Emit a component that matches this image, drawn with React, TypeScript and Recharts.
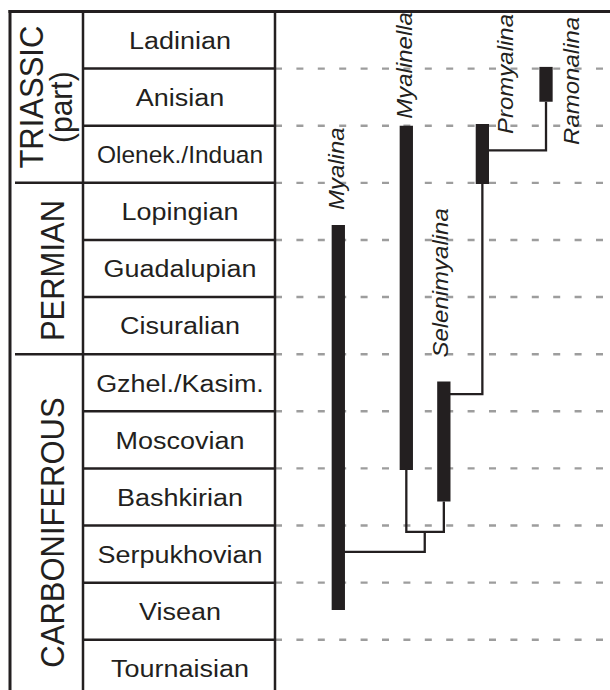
import React from 'react';
import { LineChart, Line, XAxis, YAxis, ReferenceLine } from 'recharts';

// stages from top (youngest) to bottom, one row each
const STAGES = [
  'Ladinian', 'Anisian', 'Olenek./Induan', 'Lopingian', 'Guadalupian', 'Cisuralian',
  'Gzhel./Kasim.', 'Moscovian', 'Bashkirian', 'Serpukhovian', 'Visean', 'Tournaisian',
];
const STAGE_BOUNDS = [0, 1, 2, 3, 4, 5, 6, 7, 8, 9, 10, 11];

const PERIODS = ['TRIASSIC', 'PERMIAN', 'CARBONIFEROUS'];
const PERIOD_NOTES = ['(part)', '', ''];
const PERIOD_START = [0, 3, 6];
const PERIOD_END = [3, 6, 12];

// genera: column on the x axis and range in stage rows (0 = top of Ladinian)
const GENERA = ['Myalina', 'Myalinella', 'Selenimyalina', 'Promyalina', 'Ramonalina'];
const GENUS_X = [1.89, 3.92, 5.04, 6.19, 8.09];
const RANGE_TOP = [3.74, 2.0, 6.48, 1.97, 0.97];
const RANGE_BASE = [10.48, 8.03, 8.58, 3.02, 1.58];

// cladogram branches, [x, y] points
const BRANCHES = [
  [[1.89, 9.46], [4.47, 9.46], [4.47, 9.11]],
  [[3.92, 8.03], [3.92, 9.11], [5.04, 9.11], [5.04, 8.58]],
  [[5.04, 6.7], [6.19, 6.7], [6.19, 3.02]],
  [[6.19, 2.43], [8.09, 2.43], [8.09, 1.58]],
];

const W = 610;
const H = 690;
const TOP = 11.5;
const LEFT = 10;
const PERIOD_W = 73;
const STAGE_W = 192;
const Y_MAX = 11.88;
const INK = '#231f20';
const DASH = '#9d9d9d';
const FONT = '"Liberation Sans", Arial, Helvetica, sans-serif';

// label placement relative to the top of each range bar
const LABEL_OFFSET: Record<string, [number, number]> = {
  Myalina: [5.4, -15],
  Myalinella: [6, -7],
  Selenimyalina: [4, -24],
  Promyalina: [30.4, 10],
  Ramonalina: [32.7, 78],
};
const STAGE_SCALE: Record<string, number> = { 'Olenek./Induan': 1.0 };
const PERIOD_DY = [0, 2, 7];

const near = (a: number, b: number) => Math.abs(a - b) < 1e-6;
const periodMid = (k: number) => (PERIOD_START[k] + PERIOD_END[k]) / 2;

function PeriodLabel({ i, y }: { i: number; y: number }) {
  const note = PERIOD_NOTES[i];
  const base = note ? LEFT + 33 : LEFT + 54;
  const cy = y + PERIOD_DY[i];
  return (
    <g fontFamily={FONT} fill={INK}>
      <text
        transform={`translate(${base},${cy}) scale(1.08,1) rotate(-90)`}
        textAnchor="middle"
        fontSize={31}
      >
        {PERIODS[i]}
      </text>
      {note && (
        <text
          transform={`translate(${LEFT + 61.5},${cy + 10}) scale(1.05,1) rotate(-90)`}
          textAnchor="middle"
          fontSize={30}
        >
          {note}
        </text>
      )}
    </g>
  );
}

// one axis draws the whole stratigraphic table: stage rows and period column
function TableTick(props: any) {
  const { y, payload } = props;
  const v: number = payload.value;
  const x0 = LEFT + PERIOD_W;
  const parts: React.ReactNode[] = [];

  if (STAGE_BOUNDS.some((b) => near(b, v))) {
    if (v === 0) {
      parts.push(
        <line key="top" x1={LEFT - 1.5} x2={x0 + STAGE_W} y1={y} y2={y} stroke={INK} strokeWidth={3} />,
        <line key="lb" x1={LEFT} x2={LEFT} y1={y - 1.5} y2={H} stroke={INK} strokeWidth={3} />,
        <line key="pd" x1={x0} x2={x0} y1={y} y2={H} stroke={INK} strokeWidth={2.5} />,
      );
    } else {
      parts.push(<line key="sb" x1={x0} x2={x0 + STAGE_W} y1={y} y2={y} stroke={INK} strokeWidth={2.5} />);
      if (PERIOD_START.some((s) => near(s, v))) {
        parts.push(<line key="pb" x1={LEFT + 5} x2={x0} y1={y} y2={y} stroke={INK} strokeWidth={2.5} />);
      }
    }
  } else {
    const name = STAGES[Math.floor(v)];
    const sx = STAGE_SCALE[name] ?? 1.1;
    parts.push(
      <text
        key="st"
        transform={`translate(${x0 + STAGE_W / 2 + 1},${y}) scale(${sx},1)`}
        textAnchor="middle"
        dy="0.36em"
        fontSize={24.5}
        fontFamily={FONT}
        fill={INK}
      >
        {name}
      </text>,
    );
  }
  const pi = PERIODS.findIndex((_, k) => near(periodMid(k), v));
  if (pi >= 0) parts.push(<PeriodLabel key="pl" i={pi} y={y} />);
  return <g>{parts}</g>;
}

function genusLabel(name: string) {
  return (p: any) => {
    if (p.index !== 0) return <g key={`lbl-${name}-${p.index}`} />;
    const [dx, dy] = LABEL_OFFSET[name];
    return (
      <text
        key={`lbl-${name}`}
        transform={`translate(${p.cx + dx},${p.cy + dy}) scale(0.9,1) rotate(-90)`}
        textAnchor="start"
        fontSize={24}
        fontStyle="italic"
        fontFamily={FONT}
        fill={INK}
      >
        {name}
      </text>
    );
  };
}

const tableTicks = Array.from(
  new Set([
    ...STAGE_BOUNDS,
    ...STAGES.map((_, i) => i + 0.5),
    ...PERIODS.map((_, k) => periodMid(k)),
  ]),
).sort((a, b) => a - b);

export default function App() {
  return (
    <div style={{ position: 'absolute', left: 0, top: 0, background: '#fff' }}>
      <LineChart width={W} height={H} margin={{ top: TOP, right: 0, bottom: 0, left: LEFT }}>
        <XAxis type="number" dataKey="x" domain={[0, 10]} hide />
        <YAxis
          yAxisId="stage"
          type="number"
          domain={[0, Y_MAX]}
          reversed
          width={PERIOD_W + STAGE_W}
          ticks={tableTicks}
          interval={0}
          tick={<TableTick />}
          tickLine={false}
          axisLine={{ stroke: INK, strokeWidth: 2.5 }}
        />
        <ReferenceLine yAxisId="stage" y={0} stroke={INK} strokeWidth={3} />
        {STAGE_BOUNDS.slice(1).map((b) => (
          <ReferenceLine
            key={b}
            yAxisId="stage"
            y={b}
            stroke={DASH}
            strokeWidth={2.4}
            strokeDasharray="7 14.4"
          />
        ))}
        {BRANCHES.map((pts, i) => (
          <Line
            key={`br-${i}`}
            yAxisId="stage"
            data={pts.map(([x, y]) => ({ x, y }))}
            dataKey="y"
            type="linear"
            stroke={INK}
            strokeWidth={2.3}
            dot={false}
            activeDot={false}
            isAnimationActive={false}
          />
        ))}
        {GENERA.map((g, i) => (
          <Line
            key={g}
            yAxisId="stage"
            data={[
              { x: GENUS_X[i], y: RANGE_TOP[i] },
              { x: GENUS_X[i], y: RANGE_BASE[i] },
            ]}
            dataKey="y"
            type="linear"
            stroke={INK}
            strokeWidth={13.3}
            strokeLinecap="butt"
            dot={genusLabel(g)}
            activeDot={false}
            isAnimationActive={false}
          />
        ))}
      </LineChart>
    </div>
  );
}
